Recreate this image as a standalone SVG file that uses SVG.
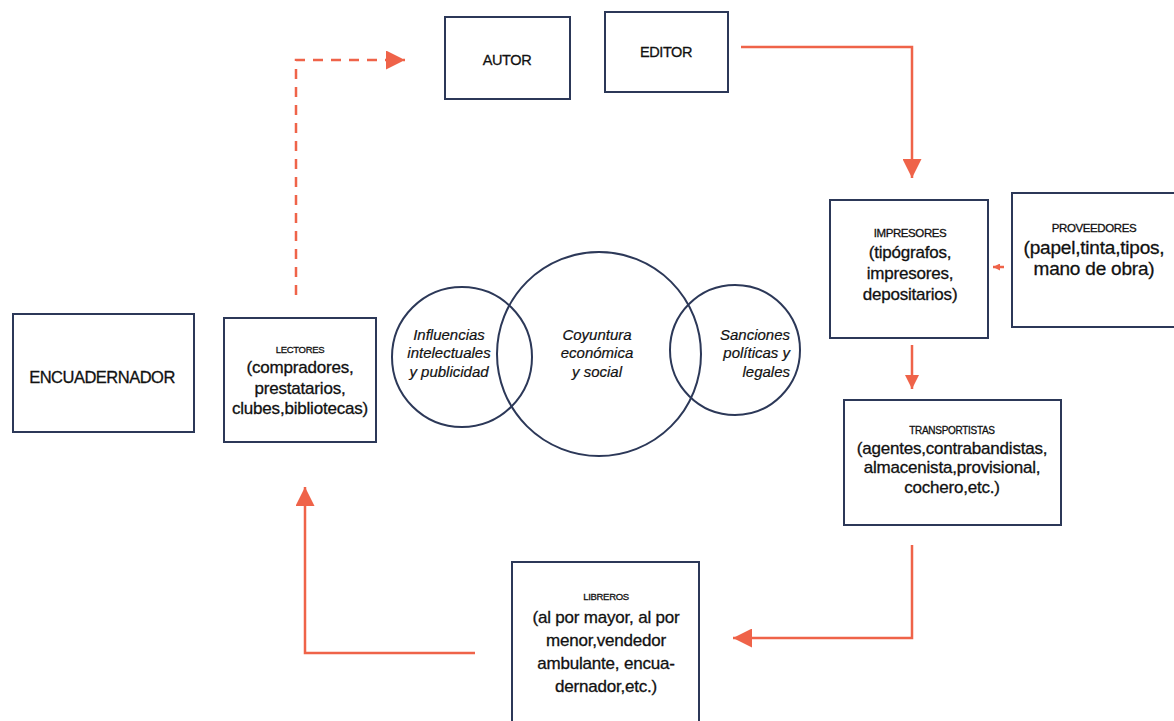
<svg xmlns="http://www.w3.org/2000/svg" width="1174" height="721" viewBox="0 0 1174 721">
<defs>
<style>
.box{fill:#fff;stroke:#2c3858;stroke-width:2}
.circ{fill:none;stroke:#2c3858;stroke-width:2}
.t{font-family:"Liberation Sans",Arial,sans-serif;fill:#111;stroke:#111;stroke-width:0.3px;text-anchor:middle}
.h{font-size:14.5px;letter-spacing:-0.4px}
.s{font-size:10px;letter-spacing:-0.3px}
.b{font-size:17px;letter-spacing:-0.2px}
.i{font-size:15px;font-style:italic;stroke-width:0.2px}
.con{fill:none;stroke:#ef6349;stroke-width:2.5}
</style>
<marker id="ah" viewBox="0 0 10 10" refX="10" refY="5" markerWidth="20" markerHeight="19" markerUnits="userSpaceOnUse" orient="auto"><path d="M0,0 L10,5 L0,10 z" fill="#ef6349"/></marker>
<marker id="ahs" viewBox="0 0 10 10" refX="10" refY="5" markerWidth="14" markerHeight="14" markerUnits="userSpaceOnUse" orient="auto"><path d="M0,0 L10,5 L0,10 z" fill="#ef6349"/></marker>
<marker id="aht" viewBox="0 0 10 10" refX="10" refY="5" markerWidth="7" markerHeight="7" markerUnits="userSpaceOnUse" orient="auto"><path d="M0,0 L10,5 L0,10 z" fill="#ef6349"/></marker>
</defs>
<rect width="1174" height="721" fill="#fff"/>

<g id="connectors">
<path class="con" d="M296,295 V60 H405" stroke-dasharray="10,8" marker-end="url(#ah)"/>
<path class="con" d="M741,47 H912 V178" marker-end="url(#ah)"/>
<path class="con" d="M1004,267 H993" stroke-width="1.5" marker-end="url(#aht)"/>
<path class="con" d="M912,345 V389" marker-end="url(#ahs)"/>
<path class="con" d="M912,545 V638 H733" marker-end="url(#ah)"/>
<path class="con" d="M475,653 H305 V487" marker-end="url(#ah)"/>
</g>

<g id="autor">
<rect class="box" x="445" y="17" width="125" height="82"/>
<text class="t h" x="507" y="65">AUTOR</text>
</g>
<g id="editor">
<rect class="box" x="605" y="12" width="123" height="80"/>
<text class="t h" x="666" y="57">EDITOR</text>
</g>
<g id="impresores">
<rect class="box" x="830" y="200" width="158" height="138"/>
<text class="t" x="910" y="237" font-size="11.5" letter-spacing="-0.4">IMPRESORES</text>
<text class="t b" x="910" y="258">(tipógrafos,</text>
<text class="t b" x="910" y="279">impresores,</text>
<text class="t b" x="910" y="300">depositarios)</text>
</g>
<g id="proveedores">
<rect class="box" x="1012" y="193" width="172" height="134"/>
<text class="t" x="1094" y="232" font-size="11.5" letter-spacing="-0.4">PROVEEDORES</text>
<text class="t" x="1094" y="254" font-size="19" letter-spacing="-0.2">(papel,tinta,tipos,</text>
<text class="t" x="1094" y="275" font-size="19" letter-spacing="-0.2">mano de obra)</text>
</g>
<g id="transportistas">
<rect class="box" x="844" y="400" width="217" height="125"/>
<text class="t s" x="952" y="434">TRANSPORTISTAS</text>
<text class="t b" x="952" y="454">(agentes,contrabandistas,</text>
<text class="t b" x="952" y="473">almacenista,provisional,</text>
<text class="t b" x="952" y="493">cochero,etc.)</text>
</g>
<g id="libreros">
<rect class="box" x="512" y="562" width="187" height="170"/>
<text class="t" x="606" y="600" font-size="9.5" letter-spacing="-0.3">LIBREROS</text>
<text class="t b" x="606" y="623">(al por mayor, al por</text>
<text class="t b" x="606" y="646">menor,vendedor</text>
<text class="t b" x="606" y="669">ambulante, encua-</text>
<text class="t b" x="606" y="692">dernador,etc.)</text>
</g>
<g id="lectores">
<rect class="box" x="224" y="318" width="152" height="124"/>
<text class="t" x="300" y="353" font-size="9.5" letter-spacing="-0.3">LECTORES</text>
<text class="t b" x="300" y="373">(compradores,</text>
<text class="t b" x="300" y="394">prestatarios,</text>
<text class="t b" x="300" y="414">clubes,bibliotecas)</text>
</g>
<g id="encuadernador">
<rect class="box" x="13" y="314" width="181" height="118" stroke-width="3"/>
<text class="t" x="102" y="383" font-size="16.5" letter-spacing="-0.5">ENCUADERNADOR</text>
</g>
<g id="influencias">
<circle class="circ" cx="462" cy="357" r="70"/>
<text class="t i" x="449" y="340">Influencias</text>
<text class="t i" x="449" y="358">intelectuales</text>
<text class="t i" x="449" y="377">y publicidad</text>
</g>
<g id="coyuntura">
<circle class="circ" cx="599" cy="354" r="102"/>
<text class="t i" x="597" y="340">Coyuntura</text>
<text class="t i" x="597" y="358">económica</text>
<text class="t i" x="597" y="377">y social</text>
</g>
<g id="sanciones">
<circle class="circ" cx="735" cy="350" r="65"/>
<text class="t i" x="790" y="340" style="text-anchor:end">Sanciones</text>
<text class="t i" x="790" y="358" style="text-anchor:end">políticas y</text>
<text class="t i" x="790" y="377" style="text-anchor:end">legales</text>
</g>
</svg>
